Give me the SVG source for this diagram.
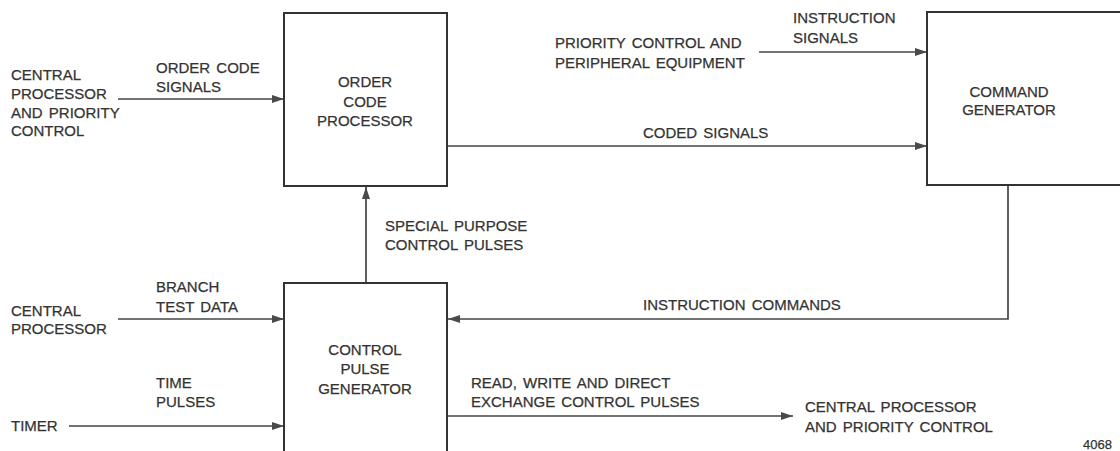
<svg xmlns="http://www.w3.org/2000/svg" width="1120" height="451" viewBox="0 0 1120 451">
<style>
text{font-family:"Liberation Sans",Arial,sans-serif;font-size:15px;fill:#333;word-spacing:2px;stroke:#333;stroke-width:0.25}
.c{text-anchor:middle}
.box{fill:#fff;stroke:#333;stroke-width:2}
.ln{fill:none;stroke:#444;stroke-width:1.7}
</style>
<defs>
<marker id="ah" viewBox="0 0 12 8" refX="12" refY="4" markerWidth="12" markerHeight="8" markerUnits="userSpaceOnUse" orient="auto">
<path d="M0,0 L12,4 L0,8 Z" fill="#4a4a4a"/>
</marker>
</defs>
<rect width="1120" height="451" fill="#fff"/>
<g id="connectors">
<path class="ln" d="M118,99 H284" marker-end="url(#ah)"/>
<path class="ln" d="M759,52 H927" marker-end="url(#ah)"/>
<path class="ln" d="M447,146 H927" marker-end="url(#ah)"/>
<path class="ln" d="M366,283 V187" marker-end="url(#ah)"/>
<path class="ln" d="M1008,185 V319 H448" marker-end="url(#ah)"/>
<path class="ln" d="M118,319 H284" marker-end="url(#ah)"/>
<path class="ln" d="M69,426 H284" marker-end="url(#ah)"/>
<path class="ln" d="M447,416 H793" marker-end="url(#ah)"/>
</g>
<g id="order-code-processor">
<rect class="box" x="284" y="13" width="163" height="173"/>
<text class="c" x="365" y="87">ORDER</text>
<text class="c" x="365" y="107">CODE</text>
<text class="c" x="365" y="126">PROCESSOR</text>
</g>
<g id="command-generator">
<rect class="box" x="927" y="12" width="220" height="173"/>
<text class="c" x="1009" y="97">COMMAND</text>
<text class="c" x="1009" y="115">GENERATOR</text>
</g>
<g id="control-pulse-generator">
<rect class="box" x="284" y="283" width="163" height="200"/>
<text class="c" x="365" y="355">CONTROL</text>
<text class="c" x="365" y="374">PULSE</text>
<text class="c" x="365" y="394">GENERATOR</text>
</g>
<g id="labels">
<text x="11" y="80">CENTRAL</text>
<text x="11" y="99">PROCESSOR</text>
<text x="11" y="118">AND PRIORITY</text>
<text x="11" y="136">CONTROL</text>
<text x="156" y="73">ORDER CODE</text>
<text x="156" y="92">SIGNALS</text>
<text x="555" y="48">PRIORITY CONTROL AND</text>
<text x="555" y="68">PERIPHERAL EQUIPMENT</text>
<text x="793" y="23">INSTRUCTION</text>
<text x="793" y="43">SIGNALS</text>
<text x="643" y="138">CODED SIGNALS</text>
<text x="385" y="231">SPECIAL PURPOSE</text>
<text x="385" y="250">CONTROL PULSES</text>
<text x="156" y="292">BRANCH</text>
<text x="156" y="312">TEST DATA</text>
<text x="11" y="316">CENTRAL</text>
<text x="11" y="334">PROCESSOR</text>
<text x="643" y="310">INSTRUCTION COMMANDS</text>
<text x="156" y="388">TIME</text>
<text x="156" y="407">PULSES</text>
<text x="11" y="431">TIMER</text>
<text x="471" y="388">READ, WRITE AND DIRECT</text>
<text x="471" y="407">EXCHANGE CONTROL PULSES</text>
<text x="805" y="412">CENTRAL PROCESSOR</text>
<text x="805" y="432">AND PRIORITY CONTROL</text>
<text x="1083" y="449" style="font-size:13px">4068</text>
</g>
</svg>
